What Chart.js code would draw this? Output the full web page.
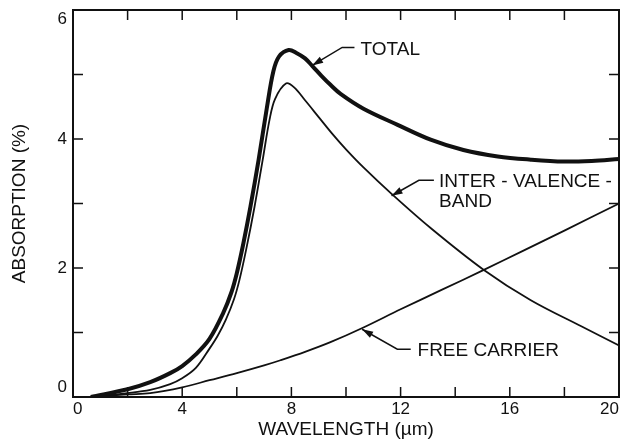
<!DOCTYPE html>
<html>
<head>
<meta charset="utf-8">
<title>Absorption vs wavelength</title>
<script src="https://cdn.jsdelivr.net/npm/chart.js@4.4.1/dist/chart.umd.min.js"></script>
<style>
  html, body { margin: 0; padding: 0; background: #fff; }
  #wrap { position: relative; width: 621px; height: 444px; }
</style>
</head>
<body>
<div id="wrap"><canvas id="absChart"></canvas></div>
<script>
// Absorption curves, [wavelength (um), absorption (%)]
const totalCurve = [
  [0.65, 0], [2, 0.12], [2.83, 0.23], [3.56, 0.37], [4, 0.48], [4.5, 0.66],
  [5, 0.9], [5.5, 1.3], [5.8, 1.62], [6, 1.92], [6.24, 2.38], [6.5, 2.95],
  [6.8, 3.68], [7.1, 4.48], [7.34, 5.05], [7.55, 5.28], [7.9, 5.38], [8.2, 5.33],
  [8.5, 5.25], [8.77, 5.13], [9.1, 4.98], [9.43, 4.84], [9.8, 4.7], [10.64, 4.47],
  [11.89, 4.22], [13.1, 3.99], [14.3, 3.83], [15.56, 3.73], [16.77, 3.68],
  [17.98, 3.65], [19, 3.66], [20, 3.69]
];
const interValenceCurve = [
  [0.65, 0], [2, 0.06], [2.83, 0.11], [3.56, 0.2], [4, 0.29], [4.5, 0.45],
  [5, 0.75], [5.3, 0.95], [5.6, 1.2], [5.9, 1.52], [6.1, 1.82], [6.35, 2.3],
  [6.65, 2.95], [6.95, 3.68], [7.2, 4.3], [7.4, 4.62], [7.8, 4.86], [8.1, 4.8],
  [8.5, 4.6], [9, 4.34], [9.5, 4.08], [10, 3.84], [10.64, 3.56], [11.67, 3.15],
  [13.1, 2.62], [15.05, 1.97], [16.77, 1.5], [18.6, 1.1], [20, 0.8]
];
const freeCarrierCurve = [
  [0.65, 0], [2, 0.04], [2.83, 0.06], [4, 0.15], [5, 0.26], [6, 0.37], [7, 0.49],
  [7.6, 0.57], [8.5, 0.7], [9.43, 0.85], [10.6, 1.07], [12, 1.36], [13.5, 1.66],
  [15.05, 1.97], [16.5, 2.27], [18, 2.58], [20, 3.0]
];
const xTickLabels = [0, 4, 8, 12, 16, 20];
const yTickLabels = [0, 2, 4, 6];

const ink = '#111';
const fontFamily = '"Liberation Sans", Arial, Helvetica, sans-serif';

// leader-line labels: arrow tip on the curve, elbow, end of the short horizontal, text start
const callouts = [
  { lines: ['TOTAL'], tip: [8.76, 5.14], elbow: [9.86, 5.42], end: [10.31, 5.42], text: [10.53, 5.39] },
  { lines: ['INTER - VALENCE -', 'BAND'], tip: [11.67, 3.12], elbow: [12.67, 3.36], end: [13.22, 3.36], text: [13.41, 3.34] },
  { lines: ['FREE CARRIER'], tip: [10.59, 1.05], elbow: [11.88, 0.74], end: [12.37, 0.74], text: [12.62, 0.72] }
];

function toPoints(curve) {
  return curve.map(p => ({ x: p[0], y: p[1] }));
}

// box, inward ticks on all four sides, and the callouts
const framePlugin = {
  id: 'frame',
  afterDatasetsDraw(chart) {
    const { ctx, chartArea: a, scales: { x, y } } = chart;
    ctx.save();
    ctx.strokeStyle = ink;
    ctx.fillStyle = ink;
    ctx.lineWidth = 2;
    ctx.strokeRect(a.left, a.top, a.right - a.left, a.bottom - a.top);

    ctx.lineWidth = 1.5;
    ctx.beginPath();
    x.ticks.forEach(t => {
      if (t.value <= x.min || t.value >= x.max) return;
      const px = x.getPixelForValue(t.value);
      ctx.moveTo(px, a.bottom); ctx.lineTo(px, a.bottom - 10);
      ctx.moveTo(px, a.top); ctx.lineTo(px, a.top + 10);
    });
    y.ticks.forEach(t => {
      if (t.value <= y.min || t.value >= y.max) return;
      const py = y.getPixelForValue(t.value);
      ctx.moveTo(a.left, py); ctx.lineTo(a.left + 10, py);
      ctx.moveTo(a.right, py); ctx.lineTo(a.right - 10, py);
    });
    ctx.stroke();

    ctx.font = '19px ' + fontFamily;
    ctx.textBaseline = 'middle';
    ctx.textAlign = 'left';
    callouts.forEach(c => {
      const tx = x.getPixelForValue(c.tip[0]), ty = y.getPixelForValue(c.tip[1]);
      const ex = x.getPixelForValue(c.elbow[0]), ey = y.getPixelForValue(c.elbow[1]);
      const hx = x.getPixelForValue(c.end[0]);
      ctx.lineWidth = 1.5;
      ctx.beginPath();
      ctx.moveTo(hx, ey);
      ctx.lineTo(ex, ey);
      ctx.lineTo(tx, ty);
      ctx.stroke();
      // arrow head
      const ang = Math.atan2(ty - ey, tx - ex);
      const len = 11, half = 3.5;
      ctx.beginPath();
      ctx.moveTo(tx, ty);
      ctx.lineTo(tx - len * Math.cos(ang) + half * Math.sin(ang), ty - len * Math.sin(ang) - half * Math.cos(ang));
      ctx.lineTo(tx - len * Math.cos(ang) - half * Math.sin(ang), ty - len * Math.sin(ang) + half * Math.cos(ang));
      ctx.closePath();
      ctx.fill();
      const lx = x.getPixelForValue(c.text[0]);
      let ly = y.getPixelForValue(c.text[1]);
      c.lines.forEach(line => {
        ctx.fillText(line, lx, ly);
        ly += 20;
      });
    });
    ctx.restore();
  }
};

document.addEventListener('DOMContentLoaded', function() {
  const ctx = document.getElementById('absChart');

  const curveStyle = {
    borderColor: ink,
    pointRadius: 0,
    fill: false,
    tension: 0.35
  };

  new Chart(ctx, {
    type: 'line',
    data: {
      datasets: [
        Object.assign({ label: 'TOTAL', data: toPoints(totalCurve), borderWidth: 4 }, curveStyle),
        Object.assign({ label: 'INTER-VALENCE-BAND', data: toPoints(interValenceCurve), borderWidth: 1.8 }, curveStyle),
        Object.assign({ label: 'FREE CARRIER', data: toPoints(freeCarrierCurve), borderWidth: 1.8 }, curveStyle)
      ]
    },
    options: {
      responsive: true,
      maintainAspectRatio: false,
      animation: false,
      layout: { padding: { top: 10, right: 2, left: 0, bottom: 0 } },
      plugins: {
        legend: { display: false },
        tooltip: { enabled: false }
      },
      scales: {
        x: {
          type: 'linear',
          min: 0,
          max: 20,
          // fixed band height; no extra room for the end labels
          afterFit: s => { s.height = 47; s.paddingLeft = 0; s.paddingRight = 0; },
          grid: { display: false, drawTicks: false },
          border: { display: false },
          ticks: {
            stepSize: 2,
            autoSkip: false,
            maxRotation: 0,
            align: 'inner',
            padding: 2,
            color: ink,
            font: { family: fontFamily, size: 17 },
            callback: v => xTickLabels.includes(v) ? String(v) : ''
          },
          title: {
            display: true,
            text: 'WAVELENGTH (\u00b5m)',
            color: ink,
            font: { family: fontFamily, size: 19, lineHeight: 1.2 },
            padding: { top: 0, bottom: 3 }
          }
        },
        y: {
          min: 0,
          max: 6,
          afterFit: s => { s.width = 73; s.paddingTop = 0; s.paddingBottom = 0; },
          grid: { display: false, drawTicks: false },
          border: { display: false },
          ticks: {
            stepSize: 1,
            autoSkip: false,
            padding: 6,
            color: ink,
            font: { family: fontFamily, size: 17, lineHeight: 1.1 },
            // end labels sit inside the box: pad them with an empty line
            callback: function(v) {
              if (!yTickLabels.includes(v)) return '';
              if (v === this.min) return [String(v), ''];
              if (v === this.max) return ['', String(v)];
              return String(v);
            }
          },
          title: {
            display: true,
            text: 'ABSORPTION (%)',
            color: ink,
            font: { family: fontFamily, size: 19, lineHeight: 1.2 },
            padding: { top: 8, bottom: 0 }
          }
        }
      }
    },
    plugins: [framePlugin]
  });
});
</script>
</body>
</html>
